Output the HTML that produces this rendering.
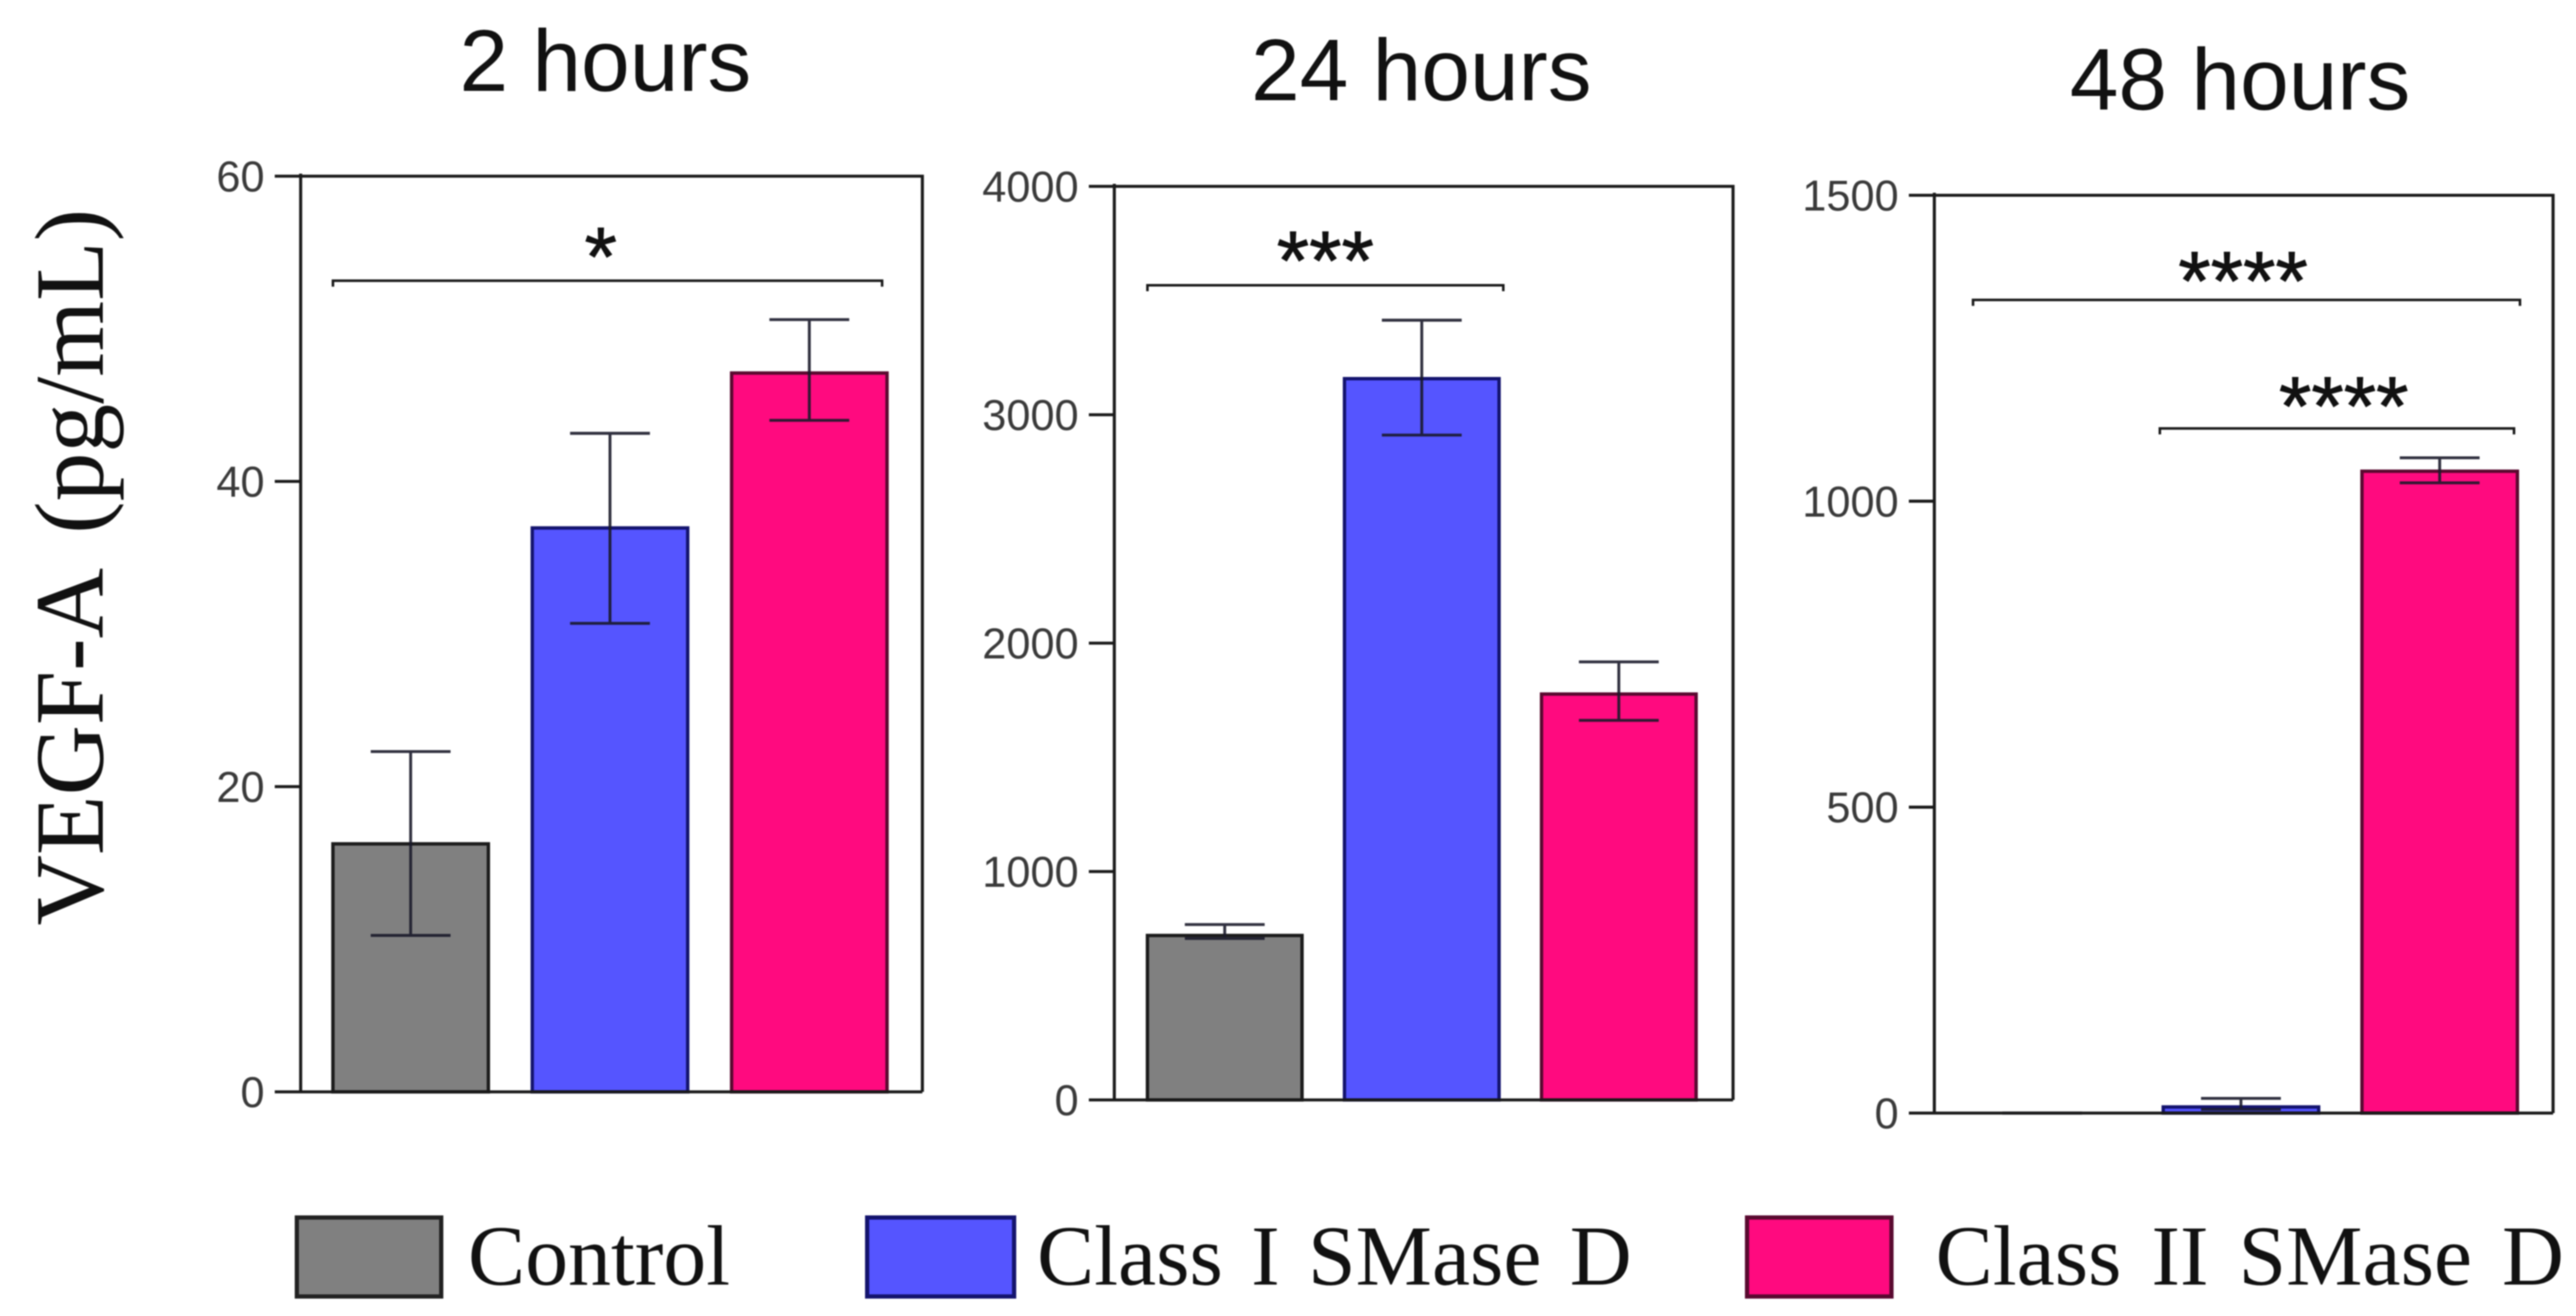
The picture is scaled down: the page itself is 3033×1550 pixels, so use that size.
<!DOCTYPE html>
<html lang="en">
<head>
<meta charset="utf-8">
<title>VEGF-A at 2, 24 and 48 hours</title>
<style>
  html, body { margin: 0; padding: 0; background: #fff; }
  body { width: 3033px; height: 1550px; overflow: hidden; }
  svg { display: block; filter: blur(0.8px); }
  .title { font-family: "Liberation Sans", sans-serif; font-size: 103px; fill: #111; }
  .legend-text { font-family: "Liberation Serif", serif; font-size: 101px; fill: #111; }
  .axis-title { font-family: "Liberation Serif", serif; font-size: 116px; fill: #111; word-spacing: 18px; }
  .tick-label { font-family: "Liberation Sans", sans-serif; font-size: 51px; fill: #3a3a3a; text-anchor: end; }
  .stars { font-family: "Liberation Sans", sans-serif; font-size: 98px; fill: #111; stroke: #111; stroke-width: 1px; text-anchor: middle; }
</style>
</head>
<body>
<svg id="figure" xmlns="http://www.w3.org/2000/svg" width="3033" height="1550" viewBox="0 0 3033 1550">
  <rect x="0" y="0" width="3033" height="1550" fill="#ffffff"/>
  <text class="axis-title" transform="translate(121,1090) rotate(-90)" textLength="844" lengthAdjust="spacingAndGlyphs">VEGF-A (pg/mL)</text>
  <text class="title" x="541" y="107">2 hours</text>
  <text class="title" x="1473" y="118">24 hours</text>
  <text class="title" x="2437" y="129">48 hours</text>

  <g>
    <rect x="349.5" y="1434" width="170" height="93" fill="#808080" stroke="#222" stroke-width="5"/>
    <text class="legend-text" x="551" y="1513">Control</text>
    <rect x="1021" y="1434" width="173" height="93" fill="#5555ff" stroke="#14146e" stroke-width="5"/>
    <text class="legend-text" x="1221" y="1513" word-spacing="8">Class I SMase D</text>
    <rect x="2057" y="1434" width="170" height="93" fill="#ff0a7f" stroke="#5a0a30" stroke-width="5"/>
    <text class="legend-text" x="2279" y="1513" word-spacing="10">Class II SMase D</text>
  </g>
  <g id="charts"></g>
</svg>

<script>
// ---- data ----
const categories = ['control', 'class-1', 'class-2'];

const ticks2h = [0, 20, 40, 60];
const values2h = [16.25, 36.95, 47.1];
const errHigh2h = [22.3, 43.15, 50.6];
const errLow2h = [10.25, 30.7, 44];
const sigLevels2h = [53.15];
const sigFrom2h = [0];
const sigTo2h = [2.755];
const sigLabels2h = ['*'];

const ticks24h = [0, 1000, 2000, 3000, 4000];
const values24h = [720, 3158, 1777];
const errHigh24h = [768, 3414, 1918];
const errLow24h = [707, 2911, 1662];
const sigLevels24h = [3567];
const sigFrom24h = [0];
const sigTo24h = [1.806];
const sigLabels24h = ['***'];

const ticks48h = [0, 500, 1000, 1500];
const values48h = [0, 10, 1049];
const errHigh48h = [0, 24, 1071];
const errLow48h = [0, 6, 1030];
const sigLevels48h = [1329, 1119];
const sigFrom48h = [0.043, 0.983];
const sigTo48h = [2.795, 2.765];
const sigLabels48h = ['****', '****'];

// ---- styling and panel layout ----
const fillColors = ['#808080', '#5555ff', '#ff0a7f'];
const edgeColors = ['#1c1c1c', '#14146e', '#5a0a30'];

const panels = [
  { name: '2h', left: 354, right: 1086, top: 207.5, bottom: 1286, tickLeft: 323.5, barStart: 392, barStep: 234.7, barWidth: 183, capHalf: 47,
    ticks: ticks2h, values: values2h, high: errHigh2h, low: errLow2h,
    sigLevels: sigLevels2h, sigFrom: sigFrom2h, sigTo: sigTo2h, sigLabels: sigLabels2h, starDy: [6], starDx: [-8] },
  { name: '24h', left: 1312, right: 2040.5, top: 219.5, bottom: 1295.5, tickLeft: 1282, barStart: 1351, barStep: 232, barWidth: 182, capHalf: 47,
    ticks: ticks24h, values: values24h, high: errHigh24h, low: errLow24h,
    sigLevels: sigLevels24h, sigFrom: sigFrom24h, sigTo: sigTo24h, sigLabels: sigLabels24h, starDy: [5], starDx: [0] },
  { name: '48h', left: 2277.5, right: 3006, top: 230, bottom: 1311, tickLeft: 2247.5, barStart: 2313, barStep: 234, barWidth: 183, capHalf: 47,
    ticks: ticks48h, values: values48h, high: errHigh48h, low: errLow48h,
    sigLevels: sigLevels48h, sigFrom: sigFrom48h, sigTo: sigTo48h, sigLabels: sigLabels48h, starDy: [12, 8], starDx: [-4, 8] }
];

const SVG_NS = 'http://www.w3.org/2000/svg';
const chartsRoot = document.getElementById('charts');

function make(parent, tag, attrs) {
  const el = document.createElementNS(SVG_NS, tag);
  for (const key in attrs) el.setAttribute(key, attrs[key]);
  parent.appendChild(el);
  return el;
}

panels.forEach(function (p) {
  const yMax = p.ticks[p.ticks.length - 1];
  const yAt = function (v) { return p.bottom - (v / yMax) * (p.bottom - p.top); };
  const barLeft = function (i) { return p.barStart + i * p.barStep; };
  const barCenter = function (i) { return barLeft(i) + p.barWidth / 2; };
  const unitX = function (u) { return p.barStart + u * p.barStep; };

  const group = make(chartsRoot, 'g', {});
  
  

  // bars
  p.values.forEach(function (v, i) {
    const y = yAt(v);
    const bar = make(group, 'rect', { x: barLeft(i), y: y, width: p.barWidth, height: Math.max(0, p.bottom - y), fill: fillColors[i], stroke: edgeColors[i], 'stroke-width': 4 });
    
    
  });

  // error bars
  p.values.forEach(function (v, i) {
    const cx = barCenter(i);
    const hi = yAt(p.high[i]);
    const lo = yAt(p.low[i]);
    const err = make(group, 'path', {
      d: 'M' + cx + ' ' + hi + 'V' + lo + 'M' + (cx - p.capHalf) + ' ' + hi + 'H' + (cx + p.capHalf) + 'M' + (cx - p.capHalf) + ' ' + lo + 'H' + (cx + p.capHalf),
      fill: 'none', stroke: '#1a1a2a', 'stroke-width': 3.4, 'stroke-opacity': 0.9
    });
    
    
  });

  // frame
  const frame = make(group, 'path', {
    d: 'M' + p.left + ' ' + p.top + 'H' + p.right + 'V' + p.bottom + 'M' + p.left + ' ' + (p.top - 3) + 'V' + p.bottom,
    fill: 'none', stroke: '#1a1a1a', 'stroke-width': 3.6
  });
  
  

  const baseLine = make(group, 'line', { x1: p.left, x2: p.right, y1: p.bottom, y2: p.bottom, stroke: '#1a1a1a', 'stroke-width': 3.6 });
  
  

  // ticks
  p.ticks.forEach(function (t) {
    const y = yAt(t);
    const tick = make(group, 'line', { x1: p.tickLeft, x2: p.left, y1: y, y2: y, stroke: '#1a1a1a', 'stroke-width': 3.6 });
    
    
    const label = make(group, 'text', { 'class': 'tick-label', x: p.tickLeft - 12, y: y + 18 });
    label.textContent = String(t);
    
    
  });

  // significance brackets
  p.sigLevels.forEach(function (level, i) {
    const y = yAt(level);
    const x1 = unitX(p.sigFrom[i]);
    const x2 = unitX(p.sigTo[i]);
    const bracket = make(group, 'path', {
      d: 'M' + x1 + ' ' + (y + 7) + 'V' + y + 'H' + x2 + 'V' + (y + 7),
      fill: 'none', stroke: '#1a1a1a', 'stroke-width': 3
    });
    
    
    const stars = make(group, 'text', { 'class': 'stars', x: (x1 + x2) / 2 + p.starDx[i], y: y + p.starDy[i] });
    stars.textContent = p.sigLabels[i];
    
    
  });
});
</script>
</body>
</html>
